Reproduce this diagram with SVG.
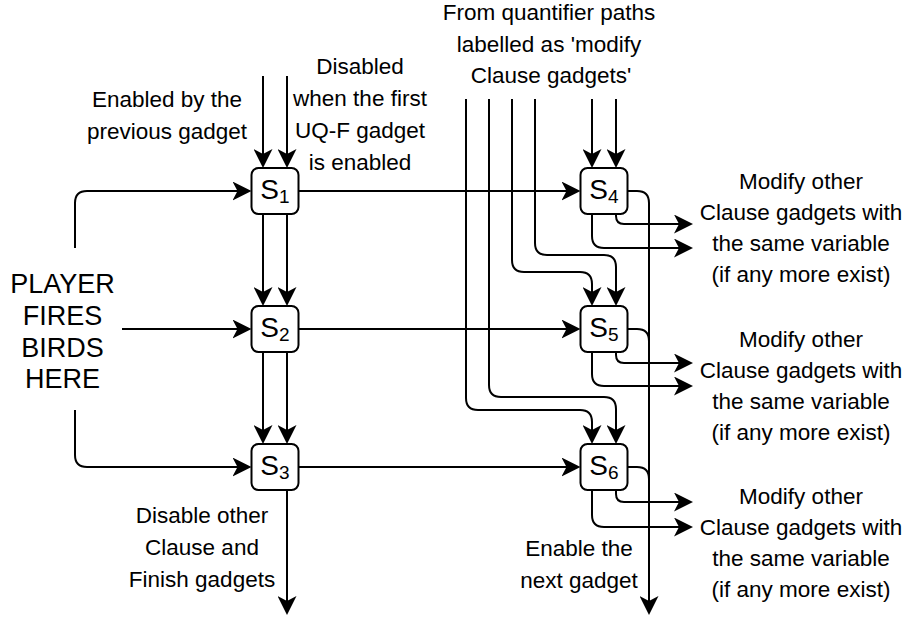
<svg xmlns="http://www.w3.org/2000/svg" width="909" height="622" viewBox="0 0 909 622">
<style>
.box{fill:#fff;stroke:#000;stroke-width:2}
.c{fill:none;stroke:#000;stroke-width:2}
.a{marker-end:url(#ah)}
.t{font-family:"Liberation Sans",Arial,sans-serif;font-size:22.5px;fill:#000;text-anchor:middle}
.big{font-size:27px}
.s{font-family:"Liberation Sans",Arial,sans-serif;font-size:28px;fill:#000;text-anchor:middle}
</style>
<defs>
<marker id="ah" markerUnits="userSpaceOnUse" viewBox="0 0 19 19" markerWidth="19" markerHeight="19" refX="15" refY="9.5" orient="auto">
<path d="M0,0 L19,9.5 L0,19 L5,9.5 Z" fill="#000"/>
</marker>
</defs>
<rect width="909" height="622" fill="#fff"/>
<g id="connectors">
<path class="c a" d="M263,76 V164"/>
<path class="c a" d="M287,76 V164"/>
<path class="c a" d="M263,214 V302"/>
<path class="c a" d="M287,214 V302"/>
<path class="c a" d="M263,352 V440"/>
<path class="c a" d="M287,352 V440"/>
<path class="c a" d="M287,490 V611"/>
<path class="c a" d="M75,248 V203 Q75,191 87,191 H247.5"/>
<path class="c a" d="M122,329 H247.5"/>
<path class="c a" d="M75,410 V455 Q75,467 87,467 H247.5"/>
<path class="c a" d="M298.5,191 H576.5"/>
<path class="c a" d="M298.5,329 H576.5"/>
<path class="c a" d="M298.5,467 H576.5"/>
<path class="c a" d="M592,99 V164"/>
<path class="c a" d="M616,99 V164"/>
<path class="c a" d="M535,99 V243 Q535,255 547,255 H604 Q616,255 616,267 V302"/>
<path class="c a" d="M512,99 V260 Q512,272 524,272 H580 Q592,272 592,284 V302"/>
<path class="c a" d="M489,99 V385 Q489,397 501,397 H604 Q616,397 616,409 V440"/>
<path class="c a" d="M466,99 V398 Q466,410 478,410 H580 Q592,410 592,422 V440"/>
<path class="c a" d="M616,214 V216 Q616,224 624,224 H689"/>
<path class="c a" d="M592,214 V236 Q592,248 604,248 H689"/>
<path class="c a" d="M616,352 V355 Q616,363 624,363 H689"/>
<path class="c a" d="M592,352 V374 Q592,386 604,386 H689"/>
<path class="c a" d="M616,490 V494 Q616,502 624,502 H689"/>
<path class="c a" d="M592,490 V515 Q592,527 604,527 H689"/>
<path class="c a" d="M627.5,191 H637 Q649,191 649,203 V611"/>
<path class="c" d="M627.5,329 H637 Q649,329 649,341 V350"/>
<path class="c" d="M627.5,467 H637 Q649,467 649,479 V488"/>
</g>
<g id="S1"><rect class="box" x="251.5" y="168" width="47" height="46" rx="7"/><text class="s" x="275" y="199">S<tspan font-size="19" dy="4">1</tspan></text></g>
<g id="S2"><rect class="box" x="251.5" y="306" width="47" height="46" rx="7"/><text class="s" x="275" y="337">S<tspan font-size="19" dy="4">2</tspan></text></g>
<g id="S3"><rect class="box" x="251.5" y="444" width="47" height="46" rx="7"/><text class="s" x="275" y="475">S<tspan font-size="19" dy="4">3</tspan></text></g>
<g id="S4"><rect class="box" x="580.5" y="168" width="47" height="46" rx="7"/><text class="s" x="604" y="199">S<tspan font-size="19" dy="4">4</tspan></text></g>
<g id="S5"><rect class="box" x="580.5" y="306" width="47" height="46" rx="7"/><text class="s" x="604" y="337">S<tspan font-size="19" dy="4">5</tspan></text></g>
<g id="S6"><rect class="box" x="580.5" y="444" width="47" height="46" rx="7"/><text class="s" x="604" y="475">S<tspan font-size="19" dy="4">6</tspan></text></g>
<g id="player-label"><text class="t big" x="62.5"><tspan x="62.5" y="293">PLAYER</tspan><tspan x="62.5" y="325">FIRES</tspan><tspan x="62.5" y="357">BIRDS</tspan><tspan x="62.5" y="388">HERE</tspan></text></g>
<g id="enabled-label"><text class="t"><tspan x="167" y="107">Enabled by the</tspan><tspan x="167" y="139">previous gadget</tspan></text></g>
<g id="disabled-label"><text class="t"><tspan x="360" y="74">Disabled</tspan><tspan x="360" y="106">when the first</tspan><tspan x="360" y="138">UQ-F gadget</tspan><tspan x="360" y="170">is enabled</tspan></text></g>
<g id="quantifier-label"><text class="t"><tspan x="549" y="20">From quantifier paths</tspan><tspan x="549" y="52">labelled as 'modify</tspan><tspan x="551" y="83">Clause gadgets'</tspan></text></g>
<g id="disable-other-label"><text class="t"><tspan x="202" y="523">Disable other</tspan><tspan x="202" y="555">Clause and</tspan><tspan x="202" y="587">Finish gadgets</tspan></text></g>
<g id="enable-next-label"><text class="t"><tspan x="579" y="556">Enable the</tspan><tspan x="579" y="588">next gadget</tspan></text></g>
<g id="modify-1"><text class="t"><tspan x="801" y="189">Modify other</tspan><tspan x="801" y="220">Clause gadgets with</tspan><tspan x="801" y="251">the same variable</tspan><tspan x="801" y="282">(if any more exist)</tspan></text></g>
<g id="modify-2"><text class="t"><tspan x="801" y="347">Modify other</tspan><tspan x="801" y="378">Clause gadgets with</tspan><tspan x="801" y="409">the same variable</tspan><tspan x="801" y="440">(if any more exist)</tspan></text></g>
<g id="modify-3"><text class="t"><tspan x="801" y="504">Modify other</tspan><tspan x="801" y="535">Clause gadgets with</tspan><tspan x="801" y="566">the same variable</tspan><tspan x="801" y="597">(if any more exist)</tspan></text></g>
</svg>
